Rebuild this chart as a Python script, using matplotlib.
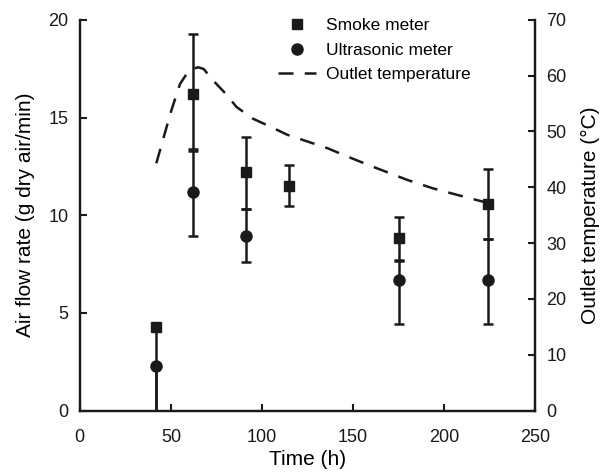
import matplotlib
matplotlib.use("Agg")
import matplotlib.pyplot as plt
from matplotlib.lines import Line2D

plt.rcParams["font.family"] = ["Liberation Sans", "DejaVu Sans"]

# Smoke meter (square markers)
smoke_t = [42, 62, 91, 115, 175, 224]
smoke_flow = [4.3, 16.2, 12.2, 11.5, 8.85, 10.55]
smoke_lo = [4.3, 2.8, 1.9, 1.05, 1.2, 1.75]
smoke_hi = [0.0, 3.1, 1.8, 1.05, 1.05, 1.8]

# Ultrasonic meter (circle markers)
ultra_t = [42, 62, 91, 175, 224]
ultra_flow = [2.3, 11.2, 8.95, 6.7, 6.7]
ultra_lo = [2.3, 2.25, 1.35, 2.25, 2.25]
ultra_hi = [0.0, 2.1, 1.35, 1.0, 2.1]

# Outlet temperature (dashed line)
temp_t = [42, 50, 55, 59, 62, 65, 68, 73, 80, 86, 95, 105, 114, 125, 136, 147, 160, 180, 194, 210, 224]
temp_c = [44.3, 53.5, 58.5, 60.5, 61.2, 61.5, 61.2, 59.2, 56.8, 54.4, 52.3, 50.8, 49.4, 48.2, 47.0, 45.5, 43.8, 41.3, 39.8, 38.4, 37.2]

fig = plt.figure(figsize=(6, 4.72), dpi=100)
ax = fig.add_axes([0.133, 0.13, 0.759, 0.828])
ax2 = ax.twinx()

err_kw = dict(ecolor="#1a1a1a", elinewidth=1.8, capsize=3.6, capthick=1.8, linestyle="none")
ax.errorbar(smoke_t, smoke_flow, yerr=[smoke_lo, smoke_hi], marker="s", ms=7,
            color="#1a1a1a", **err_kw)
ax.errorbar(ultra_t, ultra_flow, yerr=[ultra_lo, ultra_hi], marker="o", ms=8,
            color="#1a1a1a", **err_kw)
ax2.plot(temp_t, temp_c, color="#1a1a1a", lw=1.8, dashes=(6, 4.5))

ax.set_xlim(0, 250)
ax.set_ylim(0, 20)
ax2.set_ylim(0, 70)
ax.set_xticks(range(0, 251, 50))
ax.set_yticks(range(0, 21, 5))
ax2.set_yticks(range(0, 71, 10))

for a in (ax, ax2):
    a.spines["top"].set_visible(False)
    for s in ("left", "right", "bottom"):
        a.spines[s].set_linewidth(1.6)
        a.spines[s].set_color("#1a1a1a")
    a.tick_params(direction="in", length=5, width=1.5, labelsize=13, colors="#1a1a1a", pad=8)
ax.tick_params(axis="x", pad=13)

ax.set_xlabel("Time (h)", fontsize=15, labelpad=3)
ax.set_ylabel("Air flow rate (g dry air/min)", fontsize=15, labelpad=10)
ax2.set_ylabel("Outlet temperature (\u00b0C)", fontsize=15, labelpad=10)

handles = [
    Line2D([], [], marker="s", ls="none", color="#1a1a1a", ms=7),
    Line2D([], [], marker="o", ls="none", color="#1a1a1a", ms=8),
    Line2D([], [], color="#1a1a1a", lw=1.8, dashes=(6, 4.5)),
]
ax.legend(handles, ["Smoke meter", "Ultrasonic meter", "Outlet temperature"],
          loc="upper left", bbox_to_anchor=(0.4, 1.045), frameon=False,
          fontsize=12.5, handlelength=2.2, handletextpad=0.6, labelspacing=0.55)

fig.savefig("out.png", dpi=100)
